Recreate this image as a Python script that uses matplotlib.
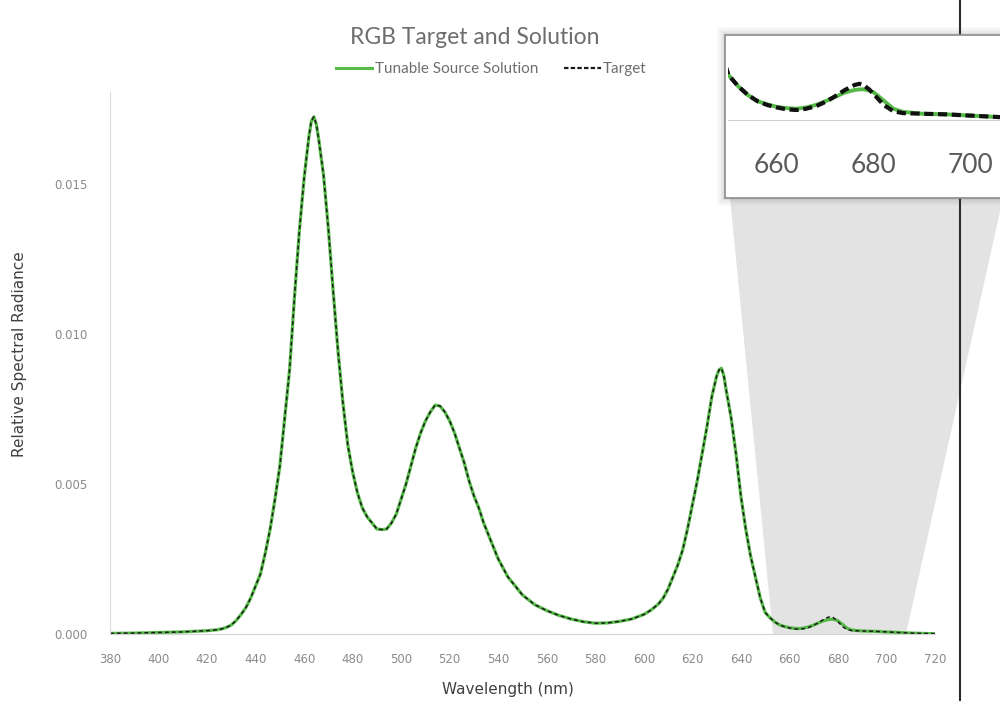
import matplotlib
matplotlib.use("Agg")
import matplotlib.pyplot as plt
from matplotlib.patches import Polygon, Rectangle
from matplotlib.lines import Line2D

# wavelength samples (nm)
wavelength = [380, 390, 400, 410, 420, 424, 426, 428, 430, 432, 434, 436, 438, 440,
              442, 444, 446, 448, 450, 452, 454, 456, 458, 460, 462, 463, 464, 465,
              466, 468, 470, 472, 474, 476, 478, 480, 482, 484, 486, 488, 490, 492,
              494, 496, 498, 500, 502, 504, 506, 508, 510, 512, 514, 516, 518, 520,
              522, 524, 526, 528, 530, 532, 534, 536, 538, 540, 542, 544, 546, 548,
              550, 555, 560, 565, 570, 575, 580, 585, 590, 595, 600, 603, 606, 608,
              610, 612, 614, 616, 618, 620, 622, 624, 626, 628, 630, 631, 632, 633,
              634, 636, 638, 640, 642, 644, 646, 648, 650, 652, 654, 656, 658, 660,
              662, 664, 666, 668, 670, 672, 674, 676, 677, 678, 679, 680, 682, 684,
              686, 690, 695, 700, 705, 710, 715, 720]

target = [0.00002, 0.00003, 0.00005, 0.00007, 0.00011, 0.00014, 0.00017, 0.00022,
          0.0003, 0.00045, 0.00065, 0.00088, 0.0012, 0.0016, 0.0020, 0.0027, 0.0035,
          0.0045, 0.0056, 0.0072, 0.0088, 0.0112, 0.0134, 0.0152, 0.0166, 0.0171,
          0.01724, 0.0170, 0.0165, 0.0153, 0.0135, 0.0114, 0.0094, 0.0077, 0.0063,
          0.0054, 0.0047, 0.0042, 0.0039, 0.0037, 0.0035, 0.00348, 0.0035, 0.0037,
          0.0040, 0.0045, 0.0050, 0.0056, 0.0062, 0.0067, 0.0071, 0.0074, 0.00763,
          0.0076, 0.0074, 0.0071, 0.0067, 0.0062, 0.0057, 0.0051, 0.0046, 0.0042,
          0.0037, 0.0033, 0.0029, 0.0025, 0.0022, 0.0019, 0.0017, 0.0015, 0.0013,
          0.00098, 0.00078, 0.00062, 0.0005, 0.00041, 0.00036, 0.00037, 0.00042,
          0.0005, 0.00065, 0.0008, 0.001, 0.0012, 0.0015, 0.0019, 0.0023, 0.0028,
          0.0035, 0.0043, 0.0051, 0.006, 0.0069, 0.0079, 0.0086, 0.0088, 0.00886,
          0.0086, 0.0081, 0.0072, 0.006, 0.0046, 0.0035, 0.0026, 0.0019, 0.0012,
          0.00072, 0.00054, 0.0004, 0.0003, 0.00024, 0.0002, 0.00017, 0.00016,
          0.00018, 0.00022, 0.00029, 0.00038, 0.00048, 0.00056, 0.00058, 0.00055,
          0.00049, 0.00041, 0.00024, 0.00014, 0.00011, 0.0001, 0.00009, 0.00007,
          0.00005, 0.00003, 0.00002, 0.00001]

solution = [0.00002, 0.00003, 0.00005, 0.00007, 0.00011, 0.00014, 0.00017, 0.00022,
            0.0003, 0.00045, 0.00065, 0.00088, 0.0012, 0.0016, 0.0020, 0.0027, 0.0035,
            0.0045, 0.0056, 0.0072, 0.0088, 0.0112, 0.0134, 0.0152, 0.0166, 0.0171,
            0.01724, 0.0170, 0.0165, 0.0153, 0.0135, 0.0114, 0.0094, 0.0077, 0.0063,
            0.0054, 0.0047, 0.0042, 0.0039, 0.0037, 0.0035, 0.00348, 0.0035, 0.0037,
            0.0040, 0.0045, 0.0050, 0.0056, 0.0062, 0.0067, 0.0071, 0.0074, 0.00763,
            0.0076, 0.0074, 0.0071, 0.0067, 0.0062, 0.0057, 0.0051, 0.0046, 0.0042,
            0.0037, 0.0033, 0.0029, 0.0025, 0.0022, 0.0019, 0.0017, 0.0015, 0.0013,
            0.00098, 0.00078, 0.00062, 0.0005, 0.00041, 0.00036, 0.00037, 0.00042,
            0.0005, 0.00065, 0.0008, 0.001, 0.0012, 0.0015, 0.0019, 0.0023, 0.0028,
            0.0035, 0.0043, 0.0051, 0.006, 0.0069, 0.0079, 0.0086, 0.0088, 0.00886,
            0.0086, 0.0081, 0.0072, 0.006, 0.0046, 0.0035, 0.0026, 0.0019, 0.0012,
            0.00072, 0.00054, 0.0004, 0.0003, 0.00025, 0.00021, 0.00019, 0.00018,
            0.0002, 0.00024, 0.0003, 0.00037, 0.00044, 0.00048, 0.00049, 0.00049,
            0.00047, 0.00044, 0.00031, 0.00018, 0.00013, 0.0001, 0.00009, 0.00007,
            0.00005, 0.00003, 0.00002, 0.00001]

xticks = list(range(380, 721, 20))
yticks = [0.0, 0.005, 0.010, 0.015]
inset_ticks = [660, 680, 700]

green = '#55b947'
W, H = 1000, 701


def fx(x):
    return x / W


def fy(y):
    return 1 - y / H


fig = plt.figure(figsize=(10, 7.01), dpi=100)

# gray zoom funnel behind the plot
funnel = Polygon([(fx(730), fy(198)), (fx(1003), fy(198)), (fx(906), fy(634)), (fx(773), fy(634))],
                 closed=True, transform=fig.transFigure, fc='#e3e3e3', ec='none', zorder=-1)
fig.add_artist(funnel)

ax = fig.add_axes([fx(110), fy(634), 0.825, (634 - 92) / H])
ax.set_facecolor('none')
ax.plot(wavelength, solution, color=green, lw=2.3, solid_capstyle='round')
ax.plot(wavelength, target, color='#1a1a1a', lw=1.1, ls=(0, (2.5, 2)))
ax.set_xlim(380, 720)
ax.set_ylim(0, (634 - 92) / 30000)
ax.set_xticks(xticks)
ax.set_yticks(yticks)
ax.set_yticklabels(['%.3f' % v for v in yticks])
for s in ['top', 'right']:
    ax.spines[s].set_visible(False)
ax.spines['left'].set_color('#dcdcdc')
ax.spines['bottom'].set_color('#d4d4d4')
ax.tick_params(length=0, labelsize=8.5, colors='#8a8a8a')
ax.tick_params(axis='y', pad=16)
ax.tick_params(axis='x', pad=14)
ax.set_xlabel('Wavelength (nm)', fontsize=11, color='#404040')
ax.set_ylabel('Relative Spectral Radiance', fontsize=11, color='#404040')
ax.xaxis.set_label_coords(0.482, -0.088)
ax.yaxis.set_label_coords(-0.1, 0.517)

fig.text(fx(475), fy(37), 'RGB Target and Solution', ha='center', va='center',
         fontsize=16.5, color='#6e6e6e', family='Lato')
handles = [Line2D([], [], color=green, lw=2.2),
           Line2D([], [], color='#1a1a1a', lw=1.6, ls=(0, (2, 1)))]
fig.legend(handles, ['Tunable Source Solution', 'Target'], loc='center',
           bbox_to_anchor=(fx(491), fy(69)), ncol=2, frameon=False,
           prop={'family': 'Lato', 'size': 11}, labelcolor='#6e6e6e',
           handlelength=2.4, handletextpad=0.15, columnspacing=1.7)

# separator line at the right edge
fig.add_artist(Line2D([fx(960), fx(960)], [0, 1], transform=fig.transFigure,
                      color='#2b2b2b', lw=1.5, zorder=2))

# inset box with a soft shadow
for k, a in [(8, 0.03), (6, 0.04), (4, 0.06), (2, 0.08)]:
    fig.add_artist(Rectangle((fx(725 - k), fy(198 + k)), (300 + 2 * k) / W, (163 + 2 * k) / H,
                             transform=fig.transFigure, fc='#555555', ec='none', alpha=a, zorder=3))
fig.add_artist(Rectangle((fx(725), fy(198)), 300 / W, 163 / H, transform=fig.transFigure,
                         fc='white', ec='#8c8c8c', lw=1.2, zorder=3))

ins = fig.add_axes([fx(728), fy(120), 0.31, 80 / H], zorder=4)
ins.set_facecolor('none')
ins.plot(wavelength, solution, color=green, lw=2.8)
ins.plot(wavelength, target, color='#111111', lw=3.0, ls=(0, (2.2, 1.1)))
ins.set_xlim(649.9, 649.9 + 310 / 4.85)
ins.set_ylim(0, 0.00128)
ins.set_xticks(inset_ticks)
ins.set_yticks([])
for s in ['top', 'right', 'left']:
    ins.spines[s].set_visible(False)
ins.spines['bottom'].set_color('#cfcfcf')
ins.tick_params(length=0, labelsize=19, colors='#5a5a5a', pad=24)
for t in ins.get_xticklabels():
    t.set_family('Lato')

fig.savefig('out.png', dpi=100)
